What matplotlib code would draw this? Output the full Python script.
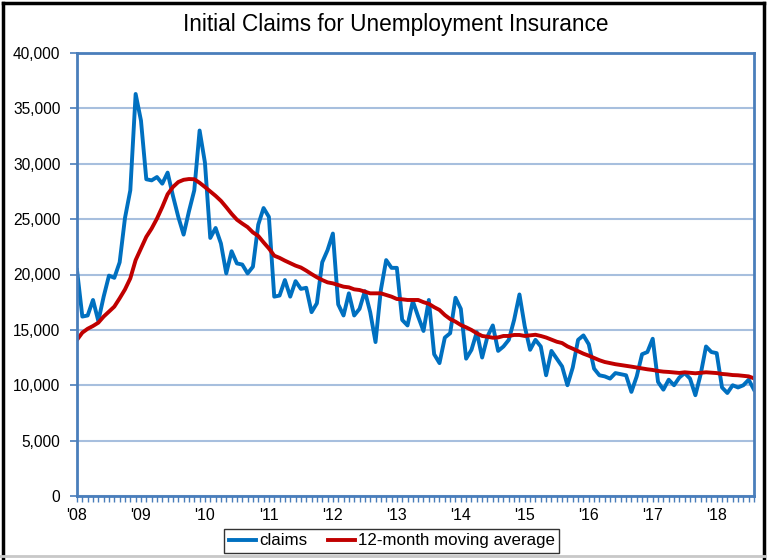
import numpy as np
import matplotlib.pyplot as plt
from matplotlib.ticker import FuncFormatter
from matplotlib.lines import Line2D

# monthly initial claims, 2008 - 2018
claims = [20400, 16200, 16300, 17700, 15800, 18000, 19900, 19700, 21100, 25100,
          27600, 36300, 33900, 28600, 28500, 28800, 28200, 29200, 27100, 25200,
          23600, 25700, 27600, 33000, 30100, 23300, 24200, 22800, 20100, 22100,
          21000, 20900, 20100, 20700, 24500, 26000, 25200, 18000, 18100, 19500,
          18000, 19400, 18700, 18800, 16600, 17400, 21100, 22200, 23700, 17300,
          16300, 18300, 16300, 16900, 18500, 16600, 13900, 18600, 21300, 20600,
          20600, 15900, 15400, 17600, 16200, 14900, 17700, 12800, 12000, 14300,
          14700, 17900, 16900, 12400, 13200, 14800, 12500, 14400, 15400, 13100,
          13500, 14100, 15900, 18200, 15300, 13200, 14100, 13500, 10900, 13100,
          12400, 11700, 10000, 11600, 14100, 14500, 13700, 11500, 10900, 10800,
          10600, 11100, 11000, 10900, 9400, 10800, 12800, 13000, 14200, 10300,
          9600, 10500, 10000, 10700, 11100, 10600, 9100, 11000, 13500, 13000,
          12900, 9800, 9300, 10000, 9800, 10000, 10500, 9600]

moving_avg = [14100, 14750, 15100, 15350, 15650, 16200, 16650, 17100, 17850, 18650,
              19650, 21300, 22350, 23400, 24150, 25050, 26100, 27250, 27900, 28350,
              28550, 28620, 28600, 28280, 27900, 27500, 27100, 26650, 26080, 25480,
              24950, 24600, 24280, 23800, 23480, 22900, 22350, 21700, 21500, 21250,
              21030, 20800, 20630, 20350, 20040, 19750, 19500, 19290, 19200, 19050,
              18900, 18840, 18660, 18600, 18450, 18300, 18300, 18300, 18150, 18000,
              17790, 17760, 17700, 17700, 17700, 17500, 17350, 17050, 16800, 16340,
              15980, 15740, 15440, 15230, 14990, 14690, 14450, 14380, 14290, 14320,
              14450, 14450, 14540, 14540, 14450, 14500, 14560, 14450, 14310, 14120,
              13930, 13810, 13510, 13300, 13070, 12850, 12670, 12460, 12260, 12100,
              12000, 11900, 11830, 11750, 11680, 11600, 11530, 11440, 11380, 11290,
              11230, 11200, 11150, 11110, 11170, 11120, 11080, 11120, 11170, 11140,
              11100, 11020, 10980, 10920, 10900, 10850, 10800, 10620]

years = ["'08", "'09", "'10", "'11", "'12", "'13", "'14", "'15", "'16", "'17", "'18"]

plt.rcParams['font.family'] = ['Liberation Sans', 'DejaVu Sans']

fig = plt.figure(figsize=(7.67, 5.6), dpi=100)
ax = fig.add_axes([77 / 767, 64 / 560, 677 / 767, 443 / 560])

x = np.arange(len(claims))
ax.plot(x, claims, color='#0070C0', lw=2.8, label='claims')
ax.plot(x, moving_avg, color='#C00000', lw=2.8, label='12-month moving average')

ax.set_xlim(0, len(claims) - 1)
ax.set_ylim(0, 40000)
ax.set_yticks(range(0, 40001, 5000))
ax.yaxis.set_major_formatter(FuncFormatter(lambda v, p: f'{int(v):,}'))
ax.set_xticks(np.arange(0, 12 * len(years), 12))
ax.set_xticklabels(years)
ax.set_xticks(x, minor=True)

ax.grid(axis='y', color='#A7BFDE', lw=1.5)
ax.set_axisbelow(True)
for s in ax.spines.values():
    s.set_color('#4A7EBB')
    s.set_linewidth(2)
ax.tick_params(axis='y', length=5, width=1.2, color='#4A7EBB', labelsize=11.2, pad=7)
ax.tick_params(axis='x', which='both', length=4, width=1, color='#4A7EBB', labelsize=11.5, pad=5)

fig.text(0.516, 0.957, 'Initial Claims for Unemployment Insurance', ha='center', va='center', fontsize=16.3)

fig.legend(loc='center', bbox_to_anchor=(0.511, 0.034), ncol=2, fontsize=12.2,
           frameon=True, fancybox=False, edgecolor='black', handlelength=1.6,
           handletextpad=0.2, columnspacing=1.2, borderpad=0.25)

# outer frame
fig.add_artist(Line2D([3 / 767, 3 / 767], [0, 1 - 3 / 560], color='black', lw=2.5))
fig.add_artist(Line2D([3 / 767, 764 / 767], [1 - 3 / 560, 1 - 3 / 560], color='black', lw=2.5))
fig.add_artist(Line2D([764 / 767, 764 / 767], [0, 1 - 3 / 560], color='black', lw=2.5))
fig.add_artist(Line2D([0, 1], [4 / 560, 4 / 560], color='#C8C8C8', lw=2))

fig.savefig('out.png', dpi=100)
